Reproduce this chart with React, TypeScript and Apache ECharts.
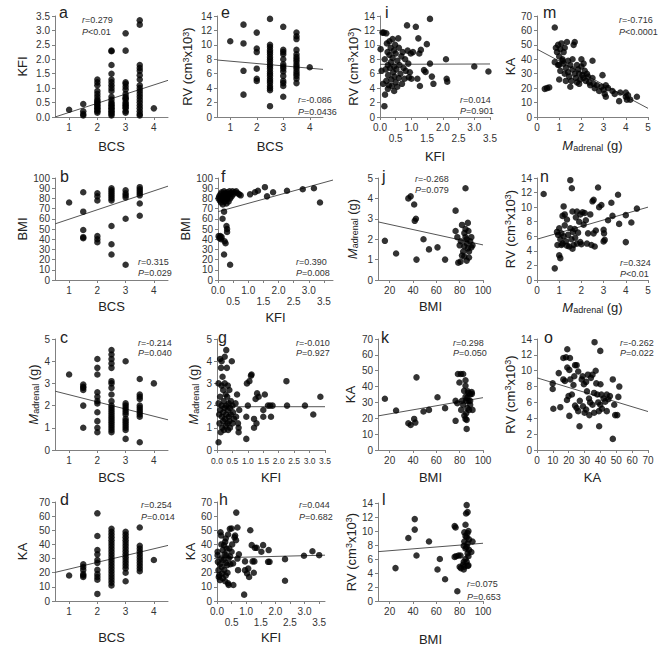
import React, { useEffect, useRef } from 'react';
import * as echarts from 'echarts';

const FONT = 'Arial, "Liberation Sans", Helvetica, sans-serif';
const INK = '#222';
const AXIS = '#808080';

// ---- body condition score groups (panels a-d, e) ----
const bcsLevels = [1, 1.5, 2, 2.5, 3, 3.5, 4];
const kfiByBcs = [
  [0.25],
  [0.45, 0.2, 0.1, 0.05],
  [1.3, 1.2, 1.1, 0.9, 0.8, 0.7, 0.6, 0.55, 0.5, 0.45, 0.4, 0.35, 0.3, 0.25, 0.2, 0.15],
  [2.3, 2.28, 1.8, 1.5, 1.3, 1.2, 1.1, 1.0, 0.9, 0.7, 0.6, 0.5, 0.45, 0.4, 0.35, 0.3, 0.25, 0.2, 0.15, 0.1, 0.05],
  [2.9, 2.3, 1.2, 1.15, 1.05, 0.95, 0.8, 0.7, 0.65, 0.6, 0.5, 0.45, 0.4, 0.35, 0.3, 0.2, 0.15],
  [3.35, 3.2, 1.8, 1.7, 1.6, 1.45, 1.3, 1.1, 1.0, 0.9, 0.8, 0.7, 0.6, 0.5, 0.4, 0.3, 0.2, 0.1, 0.05],
  [0.3],
];
const rvByBcs = [
  [10.5],
  [12.8, 10.2, 6.4, 3.1],
  [11.7, 9.5, 9.0, 6.7, 5.3, 5.0],
  [13.6, 10, 9.7, 9.3, 9.0, 8.7, 8.3, 8.0, 7.7, 7.3, 7.0, 6.7, 6.3, 6.0, 5.7, 5.3, 5.0, 4.7, 4.3, 4.0, 3.7, 1.5],
  [12.5, 9.3, 9.0, 8.7, 8.0, 7.3, 7.0, 6.7, 6.3, 5.7, 5.0, 4.7, 4.3, 2.8],
  [11.7, 11.2, 10.8, 9.3, 8.7, 8.3, 8.0, 7.7, 7.3, 7.0, 6.7, 6.3, 6.0, 5.7, 5.3, 4.7],
  [6.9],
];
const bmiByBcs = [
  [76],
  [86, 67, 49, 42, 41],
  [85, 82, 78, 43, 40, 37],
  [90, 88, 86, 84, 82, 80, 78, 53, 35, 25],
  [88, 85, 83, 81, 60, 15],
  [91, 89, 87, 85, 83, 75, 63],
  [],
];
const adrenalByBcs = [
  [3.4],
  [2.95, 2.85, 2.8, 2.7, 2.0, 1.0],
  [4.1, 3.7, 3.4, 2.6, 2.4, 2.2, 2.1, 1.7, 1.3, 1.0, 0.8],
  [4.5, 4.3, 4.1, 3.9, 3.7, 3.1, 3.0, 2.8, 2.5, 2.2, 2.0, 1.9, 1.8, 1.7, 1.6, 1.5, 1.4, 1.3, 1.2, 1.1, 1.0, 0.9, 0.8],
  [4.0, 2.1, 2.0, 1.9, 1.8, 1.7, 1.6, 1.4, 1.3, 1.2, 1.1, 1.0, 0.9, 0.5],
  [3.2, 2.5, 2.4, 2.3, 2.0, 1.9, 1.8, 1.7, 1.6, 1.5, 0.35],
  [3.0],
];
const kaByBcs = [
  [18],
  [26, 24, 22, 19, 18, 17],
  [62, 46, 36, 33, 29, 27, 22, 19, 17, 15, 5],
  [51, 49, 47, 45, 43, 41, 39, 37, 35, 33, 31, 29, 27, 25, 23, 21, 19, 17, 15, 13, 11],
  [49, 47, 45, 43, 41, 39, 37, 35, 33, 31, 29, 27, 25, 23, 20, 14],
  [52, 39, 37, 35, 33, 31, 29, 27, 25, 23, 21],
  [29],
];

// ---- paired measurements [x, y] ----
const kfiRv = [
  [0.02, 9.4], [0.05, 6.4], [0.08, 11.7], [0.12, 11.7], [0.1, 4.6], [0.16, 3.1], [0.14, 1.5], [0.15, 8.0],
  [0.18, 6.6], [0.2, 5.0], [0.2, 11.6], [0.22, 10.2], [0.24, 9.0], [0.25, 7.2], [0.26, 5.8], [0.28, 4.4],
  [0.3, 10.5], [0.3, 8.6], [0.32, 6.8], [0.34, 9.6], [0.35, 7.6], [0.36, 5.2], [0.38, 4.3], [0.4, 10.8],
  [0.4, 8.2], [0.42, 6.2], [0.44, 9.2], [0.45, 7.0], [0.46, 5.6], [0.48, 10.0], [0.5, 4.8], [0.5, 8.8],
  [0.52, 6.6], [0.55, 7.8], [0.58, 10.9], [0.6, 9.6], [0.6, 5.4], [0.62, 7.2], [0.65, 6.0], [0.68, 8.4],
  [0.7, 4.6], [0.72, 9.0], [0.75, 6.8], [0.78, 5.3], [0.8, 8.0], [0.82, 6.4], [0.86, 12.7], [0.88, 9.2],
  [0.9, 7.4], [0.92, 5.5], [0.95, 6.2], [0.98, 8.8], [0.25, 3.9], [0.45, 3.6], [0.55, 4.2],
  [1.0, 5.3], [1.05, 9.0], [1.14, 12.5], [1.19, 5.3], [1.22, 10.9], [1.25, 8.8], [1.27, 4.3], [1.3, 9.3],
  [1.4, 6.5], [1.45, 6.25], [1.49, 10.1], [1.59, 13.6], [1.59, 7.4], [1.65, 5.6], [1.7, 4.6], [2.1, 8.0],
  [2.12, 5.3], [2.14, 4.9], [3.0, 7.0], [3.45, 6.3],
];
const adrenalKa = [
  [0.35, 19.5], [0.45, 20], [0.55, 20.5], [0.8, 62], [0.8, 38], [0.85, 48], [0.9, 45], [0.95, 50], [1.0, 42],
  [1.0, 36], [1.0, 26], [1.05, 47], [1.1, 51], [1.15, 40], [1.2, 37], [1.2, 45], [1.25, 48], [1.3, 34],
  [1.3, 25], [1.35, 52], [1.4, 39], [1.45, 28], [1.5, 21], [1.5, 36], [1.55, 25], [1.6, 33], [1.6, 40],
  [1.65, 50], [1.7, 52], [1.7, 30], [1.75, 27], [1.8, 36], [1.8, 24], [1.85, 33], [1.9, 30], [1.95, 26],
  [2.0, 40], [2.0, 35], [2.05, 29], [2.1, 27], [2.15, 32], [2.2, 25], [2.25, 30], [2.3, 28], [2.35, 24],
  [2.4, 22], [2.5, 39], [2.5, 27], [2.55, 23], [2.6, 20], [2.7, 22], [2.8, 18], [2.9, 21], [2.95, 29],
  [3.0, 19], [3.05, 16], [3.1, 14], [3.1, 22], [3.2, 20], [3.4, 18], [3.5, 16], [3.7, 11], [3.75, 17],
  [4.0, 17], [4.0, 14], [4.05, 12], [4.1, 15], [4.2, 12], [4.5, 14], [1.05, 32], [1.25, 30], [1.4, 31],
  [1.9, 23], [2.1, 37], [0.95, 36], [1.15, 39],
];
const kfiBmi = [
  [0.02, 43], [0.05, 41], [0.08, 43], [0.1, 40], [0.12, 42], [0.15, 60], [0.2, 67], [0.2, 25], [0.22, 38],
  [0.25, 36], [0.28, 53], [0.3, 50], [0.3, 47], [0.4, 15],
  [0.02, 80], [0.04, 82], [0.06, 78], [0.08, 84], [0.1, 80], [0.1, 76], [0.12, 86], [0.14, 82], [0.15, 79],
  [0.16, 74], [0.18, 84], [0.2, 87], [0.2, 81], [0.22, 77], [0.24, 85], [0.25, 80], [0.26, 83], [0.28, 75],
  [0.3, 86], [0.3, 79], [0.32, 82], [0.35, 84], [0.35, 77], [0.38, 87], [0.4, 80], [0.42, 85], [0.45, 82],
  [0.48, 87], [0.5, 84], [0.55, 86], [0.6, 87], [0.65, 85], [0.7, 84], [0.75, 83],
  [1.06, 84], [1.22, 86], [1.32, 87.5], [1.55, 91], [1.62, 82], [1.82, 86], [2.28, 87.5], [2.8, 89],
  [3.17, 90], [3.37, 76],
];
const bmiAdrenal = [
  [15.9, 1.92], [25.5, 1.3], [36, 4.0], [38, 4.1], [41, 3.7], [41.5, 2.9], [42.5, 3.0], [43, 1.0], [49, 2.0],
  [53.7, 1.5], [61, 1.6], [67.5, 1.0], [76.5, 3.4], [76.5, 2.4], [78, 2.1], [78.8, 0.85], [80.7, 0.9],
  [85, 4.5], [82, 2.7], [84, 2.3], [85, 2.1], [86, 1.8], [87, 1.55], [83, 1.4], [84, 1.15], [86, 0.95],
  [87.5, 2.4], [87, 2.8], [85, 2.5], [89, 1.9], [90, 1.6], [91, 1.7], [88, 1.4], [86, 2.0], [80, 1.7],
  [81, 1.9], [84, 1.65], [90, 2.1], [88, 1.1], [82, 1.2],
];
const adrenalRv = [
  [0.3, 11.8], [0.8, 1.6], [0.9, 6.6], [0.92, 4.8], [0.95, 6.2], [1.0, 3.4], [1.05, 3.0], [1.0, 7.1],
  [1.05, 5.6], [1.1, 4.8], [1.1, 6.4], [1.15, 5.0], [1.2, 10.1], [1.2, 6.0], [1.25, 9.0], [1.25, 7.5],
  [1.3, 5.3], [1.35, 8.3], [1.4, 6.2], [1.45, 4.6], [1.5, 13.7], [1.5, 7.1], [1.55, 5.6], [1.57, 12.6],
  [1.6, 4.3], [1.62, 6.6], [1.65, 4.8], [1.7, 7.0], [1.72, 5.8], [1.75, 8.6], [1.8, 9.4], [1.8, 5.0],
  [1.85, 6.5], [1.9, 8.0], [1.95, 9.0], [1.95, 5.2], [2.0, 4.9], [2.05, 9.3], [2.1, 7.6], [2.15, 9.2],
  [2.2, 8.2], [2.25, 5.0], [2.4, 9.0], [2.45, 4.8], [2.5, 10.8], [2.55, 11.0], [2.55, 6.4], [2.6, 4.6],
  [2.65, 6.8], [2.75, 12.7], [2.8, 10.0], [2.9, 10.3], [3.0, 6.9], [3.02, 6.4], [3.05, 5.5], [3.0, 5.3],
  [3.2, 8.2], [3.35, 10.6], [3.4, 8.8], [3.65, 11.7], [3.7, 7.7], [4.0, 8.9], [4.0, 5.2], [4.25, 7.9],
  [4.5, 9.8], [1.35, 4.7], [1.6, 9.4], [2.3, 6.4], [1.15, 8.8],
];
const kfiAdrenal = [
  [0.05, 0.35], [0.05, 3.0], [0.05, 2.1], [0.07, 1.6], [0.08, 1.2], [0.1, 4.1], [0.1, 2.4], [0.1, 1.8],
  [0.12, 0.8], [0.13, 3.7], [0.15, 4.0], [0.15, 2.9], [0.15, 2.0], [0.16, 1.5], [0.17, 1.0], [0.18, 3.3],
  [0.2, 2.7], [0.2, 1.7], [0.2, 1.3], [0.22, 2.2], [0.23, 0.9], [0.25, 4.2], [0.25, 3.0], [0.25, 1.9],
  [0.26, 1.4], [0.28, 2.5], [0.28, 1.1], [0.3, 4.5], [0.3, 2.0], [0.3, 1.6], [0.32, 3.7], [0.33, 2.4],
  [0.34, 1.2], [0.35, 2.9], [0.35, 1.8], [0.36, 0.9], [0.38, 2.1], [0.38, 1.5], [0.4, 2.7], [0.4, 1.3],
  [0.42, 1.9], [0.42, 1.0], [0.45, 2.2], [0.45, 1.6], [0.48, 4.0], [0.5, 1.2], [0.5, 2.0], [0.52, 1.7],
  [0.55, 1.4], [0.6, 2.1], [0.62, 1.5], [0.65, 2.5], [0.68, 1.2], [0.7, 1.0], [0.7, 0.8], [0.72, 1.8],
  [0.95, 0.5], [0.95, 1.5], [1.0, 2.0], [0.97, 3.0], [1.05, 3.1], [1.1, 3.35], [1.12, 3.4], [1.2, 1.4],
  [1.2, 1.0], [1.25, 2.3], [1.28, 1.2], [1.3, 2.55], [1.35, 2.4], [1.5, 1.8], [1.5, 1.5], [1.55, 2.5],
  [1.65, 2.0], [1.72, 2.0], [1.75, 1.5], [1.8, 2.0], [2.25, 3.1], [2.27, 2.0], [2.85, 2.0], [3.12, 1.6],
  [3.35, 2.4],
];
const bmiKa = [
  [15.9, 32.3], [25.5, 24.9], [36, 16.9], [38, 15.8], [41, 19.6], [42, 17.3], [43, 45.8], [49, 24.3],
  [53.7, 25.3], [61, 33.3], [67.5, 26.4], [76.5, 18.4], [76.5, 31], [78, 29.5], [78.5, 47.9], [81, 47.9],
  [83, 47.9], [79.8, 42.6], [81.3, 25.3], [83, 28.5], [85, 40.5], [85, 33.5], [85.6, 23.2], [85, 19.6],
  [86, 13.3], [86.6, 26.4], [87.6, 31], [87.6, 35.9], [89, 35], [90.3, 36.5], [88, 25.3], [89, 28.5],
  [90.5, 35.4], [91, 25.3], [83.8, 37.3], [82, 31], [85.6, 31], [86.6, 33], [89, 31], [84, 21.7], [86, 19],
  [87, 37], [85, 44],
];
const kaRv = [
  [9.9, 8.4], [9.9, 7.7], [10.3, 5.2], [13.7, 9.7], [14.7, 5.4], [16.6, 8.9], [17.6, 8.7], [16.6, 11.6],
  [18.3, 11.7], [19.1, 12.7], [19.1, 10.4], [20.4, 10.1], [20.8, 11.6], [18.9, 6.3], [19.9, 6.8], [20.4, 4.3],
  [22, 7.0], [24, 10.7], [25, 10.7], [23, 8.2], [24, 5.6], [25, 5.3], [26, 9.9], [26, 4.9], [26.8, 3.0],
  [28.2, 8.9], [28.8, 9.3], [29.6, 8.3], [30, 4.7], [31, 5.1], [31.5, 7.4], [32.1, 9.5], [32.8, 6.5],
  [33.5, 6.0], [34, 9.1], [35, 9.5], [35, 5.7], [36, 4.7], [36.3, 13.6], [37, 10.0], [37.4, 8.4], [38, 7.0],
  [38.6, 6.0], [39, 4.9], [39.9, 12.5], [40, 8.3], [39.2, 3.0], [40.6, 7.0], [39.9, 5.7], [42, 6.5],
  [43, 6.1], [44, 7.0], [45, 6.4], [47.8, 1.4], [47.8, 8.9], [48.7, 5.7], [49.3, 4.4], [50.6, 4.4],
  [51.3, 6.7], [51.9, 8.0], [21, 8.9], [27, 6.2], [29, 5.5], [33, 4.4], [36, 7.2], [41, 5.2], [46, 6.8],
  [23.5, 9.3], [31, 8.6], [44, 4.9],
];
const kfiKa = [
  [0.02, 34.8], [0.02, 32.4], [0.03, 27.7], [0.05, 21.8], [0.06, 17], [0.08, 18.3], [0.1, 14.8], [0.12, 48.6],
  [0.14, 46.3], [0.15, 30], [0.16, 24], [0.18, 19.5], [0.2, 36], [0.2, 16], [0.22, 29], [0.24, 39.5],
  [0.25, 22], [0.26, 33], [0.28, 41.8], [0.3, 27], [0.3, 44.2], [0.32, 32.4], [0.33, 37], [0.35, 25.4],
  [0.36, 20], [0.38, 12.5], [0.4, 11.3], [0.4, 30], [0.42, 37.1], [0.44, 51], [0.46, 26], [0.5, 51.3],
  [0.5, 34.8], [0.52, 40], [0.55, 26.6], [0.56, 11.3], [0.6, 45], [0.62, 46.3], [0.65, 43], [0.66, 62.5],
  [0.7, 52], [0.7, 30], [0.72, 21.8], [0.75, 33], [0.15, 40], [0.28, 14], [0.1, 26], [0.3, 18], [0.38, 47],
  [0.45, 31.5],
  [0.93, 4.5], [0.96, 28], [0.96, 21.8], [1.03, 19.5], [1.07, 23], [1.1, 17], [1.14, 50], [1.19, 39.5],
  [1.22, 28], [1.28, 28], [1.3, 37.6], [1.26, 20], [1.36, 37.6], [1.52, 34.8], [1.58, 39.5], [1.75, 27.7],
  [1.77, 36], [1.8, 27.7], [2.33, 29.6], [2.33, 14.3], [2.98, 32], [3.27, 35.2], [3.5, 32.4],
];
const bmiRv = [
  [25, 4.7], [36, 9.0], [41.5, 11.7], [41.5, 10.2], [43, 6.5], [53.7, 8.5], [61, 4.5], [63, 6.0], [67.5, 3.1],
  [75.7, 10.7], [76.5, 10.5], [75.7, 6.3], [77, 6.4], [78, 1.4], [79, 6.5], [80.7, 6.5], [80, 4.9], [81, 4.7],
  [83, 5.2], [83.5, 4.5], [84, 4.9], [85, 10.9], [85.5, 12.5], [86.8, 12.7], [86, 13.7], [84, 9.8], [85, 9.3],
  [86, 9.1], [86.7, 9.7], [87.5, 10.0], [88, 8.8], [83.5, 7.9], [85, 7.5], [86, 7.7], [86.8, 6.8], [87.5, 6.4],
  [85, 6.0], [86, 5.6], [87.5, 5.1], [83.5, 5.6], [90, 7.0], [91, 8.5], [86.8, 8.2], [84, 8.5], [87, 5.0],
  [88, 7.3],
];

// ---- fitted regression lines (end points) ----
const fitA = [[0.5, 0], [4.5, 1.27]];
const fitE = [[0.5, 7.9], [4.5, 6.6]];
const fitI = [[0, 7.3], [3.5, 7.35]];
const fitM = [[0, 47], [5, 6]];
const fitB = [[0.5, 55], [4.5, 92]];
const fitF = [[0, 67], [3.8, 98]];
const fitJ = [[10, 2.85], [100, 1.72]];
const fitN = [[0, 5.6], [5, 10]];
const fitC = [[0.5, 2.65], [4.5, 1.36]];
const fitG = [[0, 1.95], [3.5, 1.95]];
const fitK = [[10, 21.5], [100, 33]];
const fitO = [[0, 9.1], [70, 4.85]];
const fitD = [[0.5, 20.2], [4.5, 39.3]];
const fitH = [[0, 30.5], [3.7, 32.4]];
const fitL = [[10, 7.05], [100, 8.25]];

// ---- correlation statistics ----
const rValues = ['0.279', '-0.086', '0.014', '-0.716', '0.315', '0.390', '-0.268', '0.324',
  '-0.214', '-0.010', '0.298', '-0.262', '0.254', '0.044', '0.075'];
const pValues = ['<0.01', '=0.0436', '=0.901', '<0.0001', '=0.029', '=0.008', '=0.079', '<0.01',
  '=0.040', '=0.927', '=0.050', '=0.022', '=0.014', '=0.682', '=0.653'];

// ---- tick values ----
const bcsTicks = [1, 2, 3, 4];
const kfiTicks = [0, 0.5, 1, 1.5, 2, 2.5, 3, 3.5];
const rvTicks = [0, 2, 4, 6, 8, 10, 12, 14];
const bmiTicks = [0, 10, 20, 30, 40, 50, 60, 70, 80, 90, 100];
const bmiXTicks = [20, 40, 60, 80, 100];
const adrenalTicks = [0, 1, 2, 3, 4, 5];
const kaTicks = [0, 10, 20, 30, 40, 50, 60, 70];

const axisNames: Record<string, string> = {
  BCS: 'BCS',
  KFI: 'KFI',
  BMI: 'BMI',
  KA: 'KA',
  RV: 'RV (cm{sup|3}x10{sup|3})',
  ADR: '{it|M}{sub|adrenal} (g)',
};

const plain = (v: number) => String(v);
const oneDecimal = (v: number) => v.toFixed(1);
const staggered = (v: number) => (Math.round(v * 2) % 2 ? '\n' : '') + v.toFixed(1);

const groupPairs = (groups: number[][]) =>
  groups.flatMap((vals, i) => vals.map((v) => [bcsLevels[i], v]));

type AxisSpec = {
  key: string; min: number; max: number; ticks: number[];
  fmt: (v: number) => string; gap: number; labelSize?: number;
};
type Panel = {
  letter: string;
  grid: { left: number; top: number; width: number; height: number };
  x: AxisSpec;
  y: AxisSpec;
  points: number[][];
  fit: number[][];
  mark: [number, number];
  stat: [number, number, number];
};

const bcsX = (gap: number): AxisSpec => ({ key: 'BCS', min: 0.5, max: 4.5, ticks: bcsTicks, fmt: plain, gap });
const kfiX = (max: number, fmt: (v: number) => string, gap: number, labelSize = 10): AxisSpec =>
  ({ key: 'KFI', min: 0, max, ticks: kfiTicks, fmt, gap, labelSize });
const bmiX = (gap: number): AxisSpec => ({ key: 'BMI', min: 10, max: 100, ticks: bmiXTicks, fmt: plain, gap });
const adrX = (gap: number): AxisSpec => ({ key: 'ADR', min: 0, max: 5, ticks: adrenalTicks, fmt: plain, gap });
const kaX = (gap: number): AxisSpec => ({ key: 'KA', min: 0, max: 70, ticks: kaTicks, fmt: plain, gap });

const kfiY = (gap: number): AxisSpec => ({ key: 'KFI', min: 0, max: 3.5, ticks: kfiTicks, fmt: oneDecimal, gap });
const rvY = (gap: number): AxisSpec => ({ key: 'RV', min: 0, max: 14, ticks: rvTicks, fmt: plain, gap });
const bmiY = (gap: number): AxisSpec => ({ key: 'BMI', min: 0, max: 100, ticks: bmiTicks, fmt: plain, gap });
const adrY = (gap: number): AxisSpec => ({ key: 'ADR', min: 0, max: 5, ticks: adrenalTicks, fmt: plain, gap });
const kaY = (gap: number): AxisSpec => ({ key: 'KA', min: 0, max: 70, ticks: kaTicks, fmt: plain, gap });

const panels: Panel[] = [
  { letter: 'a', grid: { left: 55, top: 16, width: 113, height: 101 }, x: bcsX(23), y: kfiY(26),
    points: groupPairs(kfiByBcs), fit: fitA, mark: [59, 12], stat: [82, 20, 32] },
  { letter: 'e', grid: { left: 217, top: 16, width: 106, height: 101 }, x: bcsX(23), y: rvY(23),
    points: groupPairs(rvByBcs), fit: fitE, mark: [221, 12], stat: [298, 100, 112] },
  { letter: 'i', grid: { left: 380, top: 16, width: 110, height: 101 }, x: kfiX(3.5, staggered, 33), y: rvY(15),
    points: kfiRv, fit: fitI, mark: [385, 12], stat: [460, 100, 111] },
  { letter: 'm', grid: { left: 537, top: 16, width: 111, height: 101 }, x: adrX(22), y: kaY(18),
    points: adrenalKa, fit: fitM, mark: [543, 12], stat: [619, 20, 32] },

  { letter: 'b', grid: { left: 55, top: 178, width: 113, height: 102 }, x: bcsX(20), y: bmiY(26),
    points: groupPairs(bmiByBcs), fit: fitB, mark: [60, 176], stat: [138, 262, 273] },
  { letter: 'f', grid: { left: 218, top: 178, width: 115, height: 102 }, x: kfiX(3.8, staggered, 31), y: bmiY(23),
    points: kfiBmi, fit: fitF, mark: [221, 176], stat: [296, 262, 273] },
  { letter: 'j', grid: { left: 378, top: 178, width: 105, height: 102 }, x: bmiX(20), y: adrY(19),
    points: bmiAdrenal, fit: fitJ, mark: [382, 176], stat: [415, 179, 190] },
  { letter: 'n', grid: { left: 537, top: 178, width: 111, height: 102 }, x: adrX(21), y: rvY(18),
    points: adrenalRv, fit: fitN, mark: [540, 176], stat: [620, 263, 274] },

  { letter: 'c', grid: { left: 55, top: 339, width: 113, height: 111 }, x: bcsX(21), y: adrY(15),
    points: groupPairs(adrenalByBcs), fit: fitC, mark: [60, 337], stat: [138, 343, 353] },
  { letter: 'g', grid: { left: 217, top: 339, width: 108, height: 111 }, x: kfiX(3.5, oneDecimal, 21, 8.5), y: adrY(17),
    points: kfiAdrenal, fit: fitG, mark: [218, 337], stat: [296, 343, 353] },
  { letter: 'k', grid: { left: 378, top: 339, width: 105, height: 111 }, x: bmiX(21), y: kaY(21),
    points: bmiKa, fit: fitK, mark: [381, 337], stat: [453, 343, 353] },
  { letter: 'o', grid: { left: 537, top: 339, width: 111, height: 111 }, x: kaX(21), y: rvY(17),
    points: kaRv, fit: fitO, mark: [544, 337], stat: [620, 343, 353] },

  { letter: 'd', grid: { left: 55, top: 502, width: 113, height: 99 }, x: bcsX(30), y: kaY(26),
    points: groupPairs(kaByBcs), fit: fitD, mark: [60, 499], stat: [141, 505, 517] },
  { letter: 'h', grid: { left: 217, top: 502, width: 108, height: 99 }, x: kfiX(3.7, staggered, 30), y: kaY(20),
    points: kfiKa, fit: fitH, mark: [219, 499], stat: [299, 505, 517] },
  { letter: 'l', grid: { left: 378, top: 503, width: 105, height: 98 }, x: bmiX(32), y: rvY(19),
    points: bmiRv, fit: fitL, mark: [382, 499], stat: [467, 584, 597] },
];

const nameRich = {
  sup: { fontSize: 9, verticalAlign: 'top', fontFamily: FONT, color: INK },
  sub: { fontSize: 9, verticalAlign: 'bottom', fontFamily: FONT, color: INK },
  it: { fontSize: 13, fontStyle: 'italic', fontFamily: FONT, color: INK },
};

function buildAxis(index: number, spec: AxisSpec, isX: boolean) {
  const ticks = spec.ticks;
  return {
    type: 'value',
    gridIndex: index,
    min: spec.min,
    max: spec.max,
    name: axisNames[spec.key],
    nameLocation: 'middle',
    nameGap: spec.gap,
    nameRotate: isX ? 0 : 90,
    nameTextStyle: { fontFamily: FONT, fontSize: 13, color: INK, rich: nameRich },
    axisLine: { show: true, onZero: false, lineStyle: { color: AXIS, width: 1 } },
    axisTick: { show: true, inside: false, length: 3, customValues: ticks, lineStyle: { color: AXIS, width: 1 } },
    axisLabel: {
      show: true,
      customValues: ticks,
      interval: 0,
      showMinLabel: true,
      showMaxLabel: true,
      hideOverlap: false,
      formatter: (v: number) => (ticks.some((t) => Math.abs(t - v) < 1e-6) ? spec.fmt(v) : ''),
      fontFamily: FONT,
      fontSize: spec.labelSize ?? 10,
      lineHeight: isX ? 11 : 9,
      color: '#333',
      margin: 5,
    },
    splitLine: { show: false },
  };
}

export default function App() {
  const ref = useRef<HTMLDivElement>(null);

  useEffect(() => {
    if (!ref.current) return;
    const chart = echarts.init(ref.current, undefined, { renderer: 'svg' });

    const statRich = { i: { fontStyle: 'italic', fontSize: 9, fontFamily: FONT, fill: '#333' } };
    const graphics: any[] = [];
    panels.forEach((p, i) => {
      graphics.push({
        type: 'text', x: p.mark[0], y: p.mark[1], silent: true,
        style: { text: p.letter, fontSize: 16, fontFamily: FONT, fill: INK, verticalAlign: 'middle', align: 'left' },
      });
      graphics.push({
        type: 'text', x: p.stat[0], y: p.stat[1], silent: true,
        style: { text: `{i|r}=${rValues[i]}`, rich: statRich, fontSize: 9, fontFamily: FONT, fill: '#333', verticalAlign: 'middle', align: 'left' },
      });
      graphics.push({
        type: 'text', x: p.stat[0], y: p.stat[2], silent: true,
        style: { text: `{i|P}${pValues[i]}`, rich: statRich, fontSize: 9, fontFamily: FONT, fill: '#333', verticalAlign: 'middle', align: 'left' },
      });
    });

    chart.setOption({
      animation: false,
      backgroundColor: '#fff',
      grid: panels.map((p) => ({ ...p.grid, containLabel: false })),
      xAxis: panels.map((p, i) => buildAxis(i, p.x, true)),
      yAxis: panels.map((p, i) => buildAxis(i, p.y, false)),
      series: panels.flatMap((p, i) => [
        {
          type: 'line', xAxisIndex: i, yAxisIndex: i, data: p.fit, symbol: 'none', silent: true,
          lineStyle: { color: '#555', width: 1 }, z: 1,
        },
        {
          type: 'scatter', xAxisIndex: i, yAxisIndex: i, data: p.points, symbol: 'circle', symbolSize: 6.5,
          silent: true, itemStyle: { color: '#000' }, z: 2,
        },
      ]),
      graphic: graphics,
    });

    return () => chart.dispose();
  }, []);

  return (
    <div
      ref={ref}
      style={{ position: 'absolute', left: 0, top: 0, width: 665, height: 647, background: '#fff' }}
    />
  );
}
